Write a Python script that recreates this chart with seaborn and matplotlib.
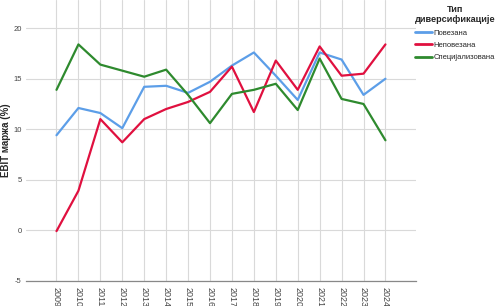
import numpy as np
import pandas as pd
import matplotlib
matplotlib.use("Agg")
import matplotlib.pyplot as plt
import seaborn as sns

years = list(range(2009, 2025))
povezana = [9.4, 12.1, 11.6, 10.1, 14.2, 14.3, 13.6, 14.7, 16.3, 17.6, 15.3, 12.9, 17.6, 16.9, 13.4, 15.0]
nepovezana = [-0.1, 3.9, 11.0, 8.7, 11.0, 12.0, 12.7, 13.7, 16.2, 11.7, 16.8, 13.9, 18.2, 15.3, 15.5, 18.4]
specijalizovana = [13.9, 18.4, 16.4, 15.8, 15.2, 15.9, 13.4, 10.6, 13.5, 13.9, 14.5, 11.9, 17.0, 13.0, 12.5, 8.9]
series_names = ["Повезана", "Неповезана", "Специјализована"]
colors = ["#5c9ee8", "#e0103f", "#2e8a2e"]
yticks = [-5, 0, 5, 10, 15, 20]

df = pd.DataFrame({
    "year": years * 3,
    "val": povezana + nepovezana + specijalizovana,
    "tip": [series_names[0]] * 16 + [series_names[1]] * 16 + [series_names[2]] * 16,
})

sns.set_style("white")
plt.rcParams['font.family'] = ['Liberation Sans', 'DejaVu Sans']

fig = plt.figure(figsize=(4.96, 3.06), dpi=100)
ax = fig.add_axes([0.052, 0.083, 0.787, 0.917])
sns.lineplot(data=df, x="year", y="val", hue="tip", palette=colors,
             hue_order=series_names, linewidth=1.6, ax=ax, legend=True)

ax.set_xlim(2007.6, 2025.4)
ax.set_ylim(-5, 22.8)
ax.set_xticks(years)
ax.set_xticklabels([str(y) for y in years], rotation=270, fontsize=6.5, color="#444444")
ax.set_yticks(yticks)
ax.set_yticklabels([str(t) for t in yticks], fontsize=5.5, color="#444444")
ax.tick_params(axis="x", length=3, width=0.6, color="#888888", pad=1.5)
ax.tick_params(axis="y", length=0, pad=3)
ax.grid(True, color="#d9d9d9", linewidth=0.8)
ax.set_axisbelow(True)
for s in ["top", "right", "left"]:
    ax.spines[s].set_visible(False)
ax.spines["bottom"].set_color("#888888")
ax.spines["bottom"].set_linewidth(0.9)
ax.set_xlabel("")
ax.set_ylabel("EBIT маржа (%)", fontsize=7, fontweight="bold")
ax.yaxis.set_label_coords(-0.038, 0.5)

leg = ax.legend(title="Тип\nдиверсификације", loc="upper center",
                bbox_to_anchor=(455 / 496, 1 - 5 / 306),
                bbox_transform=fig.transFigure, frameon=False, fontsize=5.5,
                title_fontproperties={"weight": "bold", "size": 6.6},
                handlelength=2.2, handletextpad=0.25, labelspacing=0.65,
                borderaxespad=0.0, borderpad=0.0)
leg._legend_box.align = "center"
leg.get_title().set_multialignment("center")
for line in leg.get_lines():
    line.set_linewidth(2)

fig.savefig("out.png", dpi=100)
